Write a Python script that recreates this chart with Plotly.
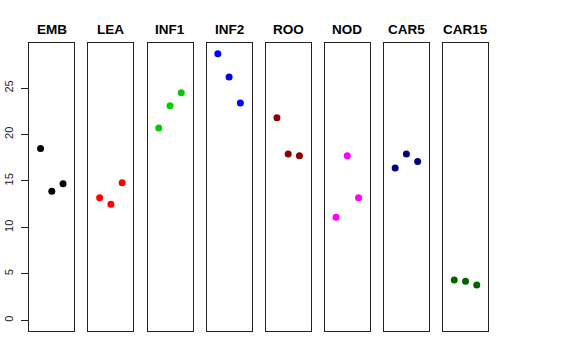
import plotly.graph_objects as go

panels = ["EMB", "LEA", "INF1", "INF2", "ROO", "NOD", "CAR5", "CAR15"]
colors = ["#000000", "#FF0000", "#00CD00", "#0000FF", "#8B0000", "#FF00FF", "#000080", "#006400"]
x_pos = [1, 2, 3]
EMB = [18.5, 13.9, 14.7]
LEA = [13.2, 12.5, 14.8]
INF1 = [20.7, 23.1, 24.5]
INF2 = [28.7, 26.2, 23.4]
ROO = [21.8, 17.9, 17.7]
NOD = [11.1, 17.7, 13.2]
CAR5 = [16.4, 17.9, 17.1]
CAR15 = [4.35, 4.2, 3.8]
values = [EMB, LEA, INF1, INF2, ROO, NOD, CAR5, CAR15]
y_ticks = [0, 5, 10, 15, 20, 25]

W, H = 576, 360
fig = go.Figure()
ymax = max(max(v) for v in values)
yrange = [-0.04 * ymax, ymax * 1.04]
left0, pitch, width = 29.3, 59.1, 45.0
top, bottom = 43.0, 331.0

for i, (name, col, vals) in enumerate(zip(panels, colors, values)):
    idx = "" if i == 0 else str(i + 1)
    xa = "x" + idx
    ya = "y" + idx
    fig.add_trace(go.Scatter(x=x_pos, y=vals, mode="markers",
                             marker=dict(color=col, size=7), xaxis=xa, yaxis=ya,
                             showlegend=False, hoverinfo="skip"))
    l = left0 + pitch * i
    xdom = [l / W, (l + width) / W]
    ydom = [(H - bottom) / H, (H - top) / H]
    fig.layout["xaxis" + idx] = dict(domain=xdom, range=[0, 4], showgrid=False, zeroline=False,
                                     showticklabels=False, ticks="", showline=True, mirror=True,
                                     linecolor="#222", linewidth=1, anchor=ya, fixedrange=True,
                                     automargin=False)
    yd = dict(domain=ydom, range=yrange, showgrid=False, zeroline=False, showline=True,
              mirror=True, linecolor="#222", linewidth=1, anchor=xa, fixedrange=True,
              automargin=False)
    if i == 0:
        yd.update(tickvals=y_ticks, ticktext=[str(t) for t in y_ticks], ticks="outside",
                  ticklen=7, tickcolor="#222", tickangle=-90, ticklabelstandoff=4,
                  tickfont=dict(family="Liberation Sans, Arial, sans-serif", size=11, color="#222"))
    else:
        yd.update(showticklabels=False, ticks="")
    fig.layout["yaxis" + idx] = yd
    fig.add_annotation(text="<b>" + name + "</b>", x=(l + width / 2) / W, y=(H - 29) / H,
                       xref="paper", yref="paper", showarrow=False, xanchor="center", yanchor="middle",
                       font=dict(family="Liberation Sans, Arial, sans-serif", size=13.5, color="#000"))

fig.update_layout(width=W, height=H, margin=dict(l=0, r=0, t=0, b=0, pad=0, autoexpand=False),
                  plot_bgcolor="white", paper_bgcolor="white")
fig.write_html("out.html", config={"displayModeBar": False},
               post_script="document.body.style.margin='0';document.body.style.overflow='hidden';")
